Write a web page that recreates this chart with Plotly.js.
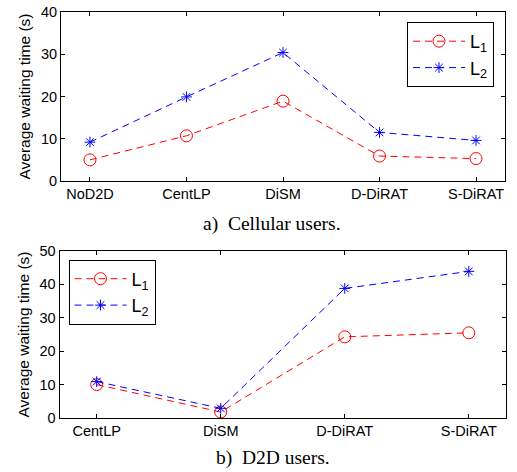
<!DOCTYPE html>
<html><head><meta charset="utf-8">
<script src="https://cdn.plot.ly/plotly-3.0.1.min.js"></script>
<style>html,body{margin:0;padding:0;background:#fff}#chart{width:517px;height:472px}</style>
</head><body><div id="chart"></div>
<script>
const catsA = ["NoD2D","CentLP","DiSM","D-DiRAT","S-DiRAT"];
const cellL1 = [5.0, 10.7, 18.9, 5.9, 5.3];
const cellL2 = [9.2, 19.9, 30.4, 11.5, 9.6];
const catsB = ["CentLP","DiSM","D-DiRAT","S-DiRAT"];
const d2dL1 = [10.0, 1.8, 24.3, 25.5];
const d2dL2 = [10.9, 2.9, 38.8, 43.9];
const yTicksA = [0,10,20,30,40];
const yTicksB = [0,10,20,30,40,50];
const seriesNames = ["L<sub>1</sub>","L<sub>2</sub>"];
const captionA = "a)\u00a0 Cellular users.";
const captionB = "b)\u00a0 D2D users.";
const yTitle = "Average waiting time (s)";

const red = "#ff0000", blue = "#0000ff";
const dash = "7px,5px";
function tr(x, y, name, color, sym, xa, ya, leg, show) {
  return {x: x, y: y, name: name, type: "scatter", mode: "lines+markers",
    xaxis: xa, yaxis: ya, legend: leg, showlegend: show,
    line: {color: color, width: 1, dash: dash},
    marker: {symbol: sym, size: sym === "circle-open" ? 12 : 9, color: color, line: {color: color, width: 1}}};
}
const data = [
  tr(catsA, cellL1, seriesNames[0], red, "circle-open", "x", "y", "legend", true),
  tr(catsA, cellL2, seriesNames[1], blue, "asterisk-open", "x", "y", "legend", true),
  tr(catsB, d2dL1, seriesNames[0], red, "circle-open", "x2", "y2", "legend2", true),
  tr(catsB, d2dL2, seriesNames[1], blue, "asterisk-open", "x2", "y2", "legend2", true)
];
const tickFont = {family: "Liberation Sans, Arial, sans-serif", size: 14.5, color: "#000"};
function xax(dom, n, anchor) {
  return {domain: dom, anchor: anchor, range: [-0.3, n - 1 + 0.3], showline: true, linecolor: "#000", linewidth: 1,
    mirror: "ticks", ticks: "inside", ticklen: 4, tickcolor: "#000", tickfont: tickFont, showgrid: false, zeroline: false, fixedrange: true};
}
function yax(dom, rng, tv, anchor) {
  return {domain: dom, anchor: anchor, range: rng, tickvals: tv, showline: true, linecolor: "#000", linewidth: 1,
    mirror: "ticks", ticks: "inside", ticklen: 4, tickcolor: "#000", tickfont: tickFont, showgrid: false, zeroline: false,
    title: {text: yTitle, font: {family: "Liberation Sans, Arial, sans-serif", size: 15.5, color: "#000"}, standoff: 6}};
}
const legStyle = {bgcolor: "#fff", bordercolor: "#000", borderwidth: 1,
  font: {family: "Liberation Sans, Arial, sans-serif", size: 18, color: "#000"},
  xanchor: "left", yanchor: "top", tracegroupgap: 0, itemwidth: 52};
const capFont = {family: "Liberation Serif, Times New Roman, serif", size: 19.5, color: "#000"};
const layout = {
  width: 517, height: 472, margin: {l: 0, r: 0, t: 0, b: 0},
  paper_bgcolor: "#fff", plot_bgcolor: "#fff",
  xaxis: xax([61/517, 505/517], catsA.length, "y"),
  yaxis: yax([1 - 181/472, 1 - 12/472], [0, 40], yTicksA, "x"),
  xaxis2: xax([59.5/517, 506/517], catsB.length, "y2"),
  yaxis2: yax([1 - 418/472, 1 - 251/472], [0, 50], yTicksB, "x2"),
  legend: Object.assign({}, legStyle, {x: 407/517, y: 1 - 22/472}),
  legend2: Object.assign({}, legStyle, {x: 68.5/517, y: 1 - 259.5/472}),
  annotations: [
    {text: captionA, xref: "paper", yref: "paper", x: 272/517, y: 1 - 224/472, showarrow: false,
     font: capFont, xanchor: "center", yanchor: "middle"},
    {text: captionB, xref: "paper", yref: "paper", x: 273/517, y: 1 - 458/472, showarrow: false,
     font: capFont, xanchor: "center", yanchor: "middle"}
  ],
  showlegend: true
};
Plotly.newPlot("chart", data, layout, {staticPlot: true});
</script></body></html>
